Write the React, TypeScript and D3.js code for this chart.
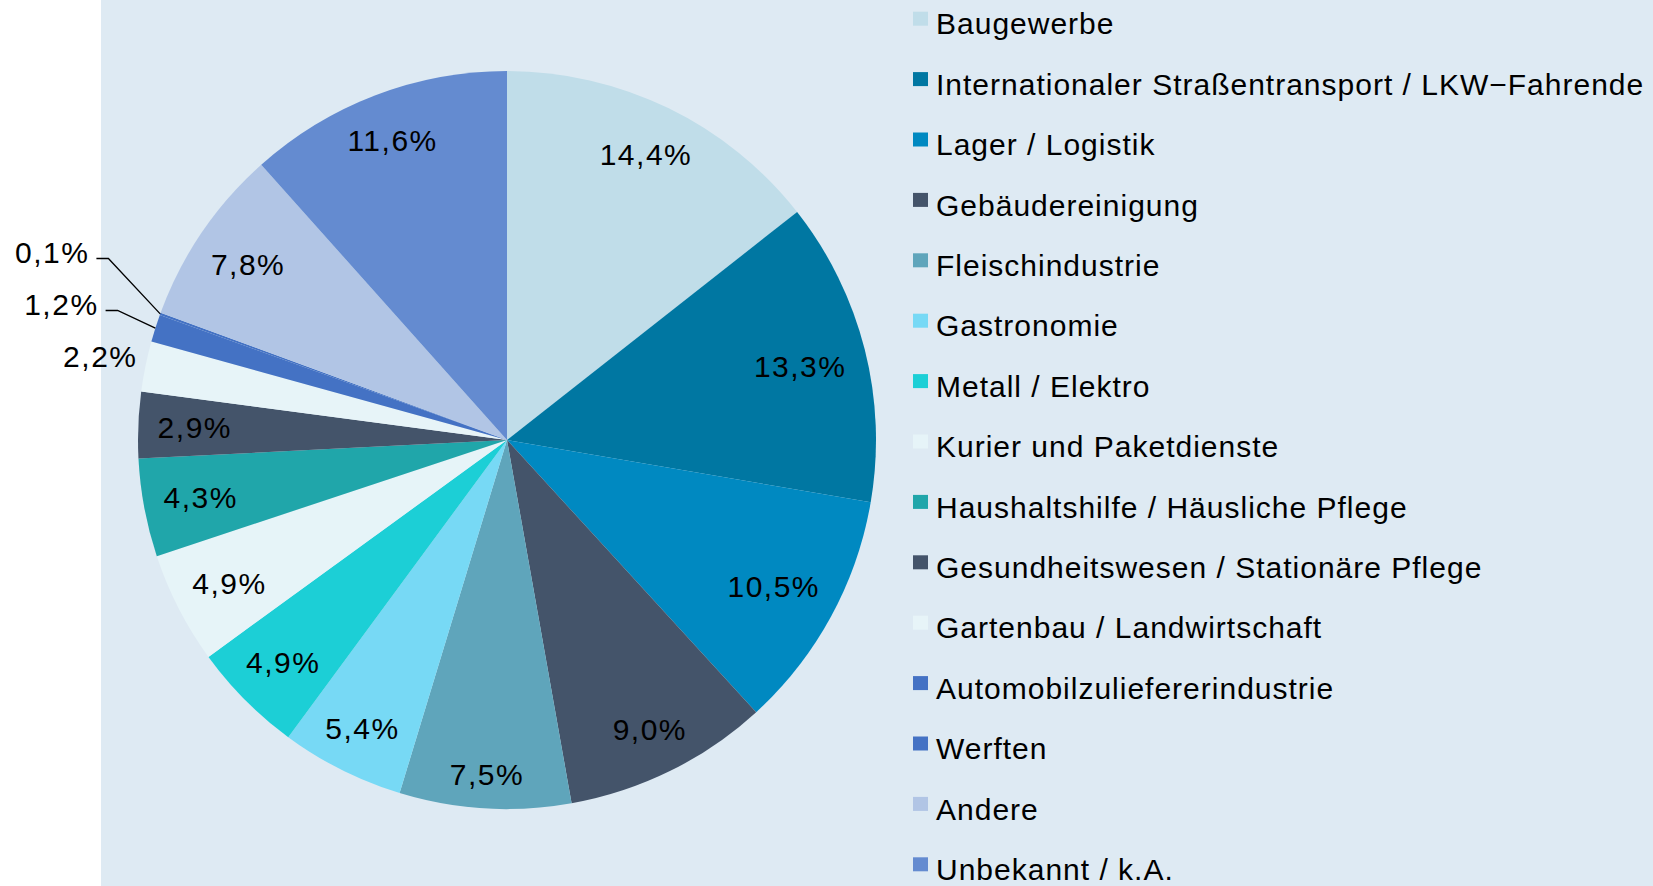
import React from 'react';
import * as d3 from 'd3';

// Branchen, im Uhrzeigersinn ab 12 Uhr
const categories = [
  'Baugewerbe',
  'Internationaler Straßentransport / LKW−Fahrende',
  'Lager / Logistik',
  'Gebäudereinigung',
  'Fleischindustrie',
  'Gastronomie',
  'Metall / Elektro',
  'Kurier und Paketdienste',
  'Haushaltshilfe / Häusliche Pflege',
  'Gesundheitswesen / Stationäre Pflege',
  'Gartenbau / Landwirtschaft',
  'Automobilzuliefererindustrie',
  'Werften',
  'Andere',
  'Unbekannt / k.A.',
];

const shares = [14.4, 13.3, 10.5, 9.0, 7.5, 5.4, 4.9, 4.9, 4.3, 2.9, 2.2, 1.2, 0.1, 7.8, 11.6];

const colors = [
  '#c0dde9', '#0077a2', '#0089c1', '#44546a', '#5fa5bb',
  '#77d9f5', '#1ccfd6', '#e6f4f8', '#20a6aa', '#44546a',
  '#e7f4f8', '#4472c4', '#4472c4', '#b1c5e5', '#648bd0',
];

const W = 1653;
const H = 886;
const cx = 507;
const cy = 440;
const R = 369;
const FONT = '"Liberation Sans", Arial, sans-serif';

const fmt = (v: number) => v.toFixed(1).replace('.', ',') + '%';

const pt = (r: number, a: number): [number, number] => [cx + r * Math.sin(a), cy - r * Math.cos(a)];

// Label innen: so weit nach außen schieben, bis die äußerste Ecke der Box bei rMax liegt
const insidePos = (a: number, label: string, rMax: number): [number, number] => {
  const sx = Math.sin(a);
  const sy = -Math.cos(a);
  const ox = (label.length * 18.5) / 2 * Math.sign(sx);
  const oy = 11 * Math.sign(sy);
  const b = sx * ox + sy * oy;
  const c = ox * ox + oy * oy - rMax * rMax;
  const t = -b + Math.sqrt(b * b - c);
  return [cx + t * sx, cy + t * sy];
};

export default function App() {
  const data = categories.map((name, i) => ({ name, value: shares[i], color: colors[i] }));
  const pie = d3.pie<any>().sort(null).value(d => d.value);
  const arcs = pie(data);
  const arc = d3.arc<any>().innerRadius(0).outerRadius(R);

  const inside = arcs.filter(d => d.data.value >= 2.5);
  const outside = arcs.filter(d => d.data.value < 2.5);

  // Außenbeschriftung mit einfacher Kollisionsvermeidung (nach oben schieben)
  let prevY = Infinity;
  const outLabels = outside.map(d => {
    const a = (d.startAngle + d.endAngle) / 2;
    if (d.data.value >= 1.5) {
      const [x, y] = pt(R + 4, a);
      prevY = y - 10;
      return { d, x: x - 4, y: y - 10, leader: null as any };
    }
    const [ex, ey] = pt(R * 1.1, a);
    let centerY = ey - 7;
    const limit = prevY - 52;
    let push = 0;
    if (centerY > limit) {
      push = centerY - limit;
      centerY = limit;
    }
    prevY = centerY;
    const elbowX = ex - push * 0.4;
    const elbowY = centerY + 7;
    const edge = pt(R, a);
    return {
      d,
      x: elbowX - 12 - 7,
      y: centerY,
      leader: [edge, [elbowX, elbowY], [elbowX - 12, elbowY]],
    };
  });

  const rowH = 60.4;
  const legendBase = 34.3;

  return (
    <div style={{ position: 'fixed', left: 0, top: 0, width: W, height: H }}>
      <svg width={W} height={H} style={{ display: 'block' }}>
        <rect x={0} y={0} width={W} height={H} fill="#ffffff" />
        <rect x={101} y={0} width={W - 101} height={H} fill="#deeaf3" />

        <g transform={`translate(${cx},${cy})`}>
          {arcs.map((d, i) => (
            <path key={i} d={arc(d) as string} fill={d.data.color} />
          ))}
        </g>

        <g fontFamily={FONT} fontSize={30} fill="#000" letterSpacing={1.5}>
          {inside.map((d, i) => {
            const label = fmt(d.data.value);
            const [x, y] = insidePos((d.startAngle + d.endAngle) / 2, label, 350);
            return (
              <text key={i} x={x} y={y + 11} textAnchor="middle">
                {label}
              </text>
            );
          })}
          {outLabels.map((l, i) => (
            <g key={i}>
              {l.leader && (
                <polyline
                  points={l.leader.map((p: number[]) => p.join(',')).join(' ')}
                  fill="none"
                  stroke="#000"
                  strokeWidth={1.3}
                />
              )}
              <text x={l.x} y={l.y + 11} textAnchor="end">
                {fmt(l.d.data.value)}
              </text>
            </g>
          ))}
        </g>

        <g fontFamily={FONT} fontSize={30} fill="#000" letterSpacing={1}>
          {data.map((d, i) => {
            const base = legendBase + i * rowH;
            return (
              <g key={i}>
                <rect x={913} y={base - 22.6} width={15} height={14} fill={d.color} />
                <text x={936} y={base}>{d.name}</text>
              </g>
            );
          })}
        </g>
      </svg>
    </div>
  );
}
